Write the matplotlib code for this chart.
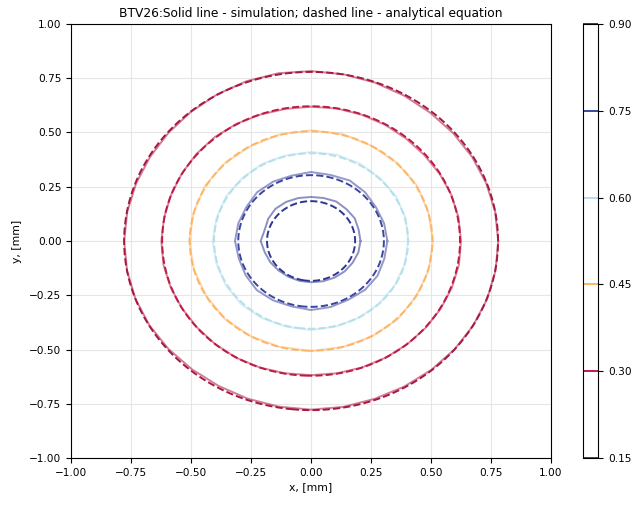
import numpy as np
import matplotlib
matplotlib.use("Agg")
import matplotlib.pyplot as plt

# ---- data ----
levels = [0.15, 0.30, 0.45, 0.60, 0.75, 0.90]
level_colors = ['#a8173f', '#bd1a45', '#fdb567', '#b4dfeb', '#3c45a0', '#2f3590']
sigma_mm = 0.40  # analytical Gaussian beam size

# simulated contour radii (mm)
# outer two levels read every 10 deg, inner levels every 15 deg
sim_angles_10 = list(range(0, 360, 10))
sim_angles_15 = list(range(0, 360, 15))
sim_r_015 = [0.780, 0.779, 0.777, 0.775, 0.773, 0.772, 0.774, 0.777, 0.780, 0.783, 0.785, 0.784,
             0.781, 0.778, 0.776, 0.775, 0.776, 0.778, 0.779, 0.779, 0.779, 0.778, 0.775, 0.772,
             0.771, 0.773, 0.775, 0.777, 0.776, 0.774, 0.775, 0.777, 0.779, 0.780, 0.781, 0.781]
sim_r_030 = [0.625, 0.624, 0.622, 0.619, 0.616, 0.616, 0.618, 0.619, 0.620, 0.619, 0.618, 0.620,
             0.623, 0.625, 0.624, 0.622, 0.621, 0.622, 0.624, 0.625, 0.623, 0.621, 0.620, 0.621,
             0.622, 0.621, 0.619, 0.618, 0.619, 0.620, 0.621, 0.622, 0.623, 0.624, 0.625, 0.626]
sim_r_045 = [0.508, 0.506, 0.510, 0.508, 0.506, 0.510, 0.510, 0.508, 0.505, 0.508, 0.510, 0.507,
             0.508, 0.506, 0.505, 0.508, 0.506, 0.505, 0.507, 0.506, 0.508, 0.510, 0.507, 0.508]
sim_r_060 = [0.405, 0.408, 0.410, 0.408, 0.410, 0.412, 0.410, 0.408, 0.410, 0.408, 0.410, 0.408,
             0.410, 0.408, 0.410, 0.412, 0.410, 0.408, 0.410, 0.408, 0.406, 0.405, 0.404, 0.405]
sim_r_075 = [0.318, 0.315, 0.312, 0.318, 0.322, 0.315, 0.318, 0.312, 0.316, 0.318, 0.312, 0.314,
             0.317, 0.312, 0.315, 0.320, 0.316, 0.312, 0.318, 0.315, 0.312, 0.318, 0.320, 0.316]
sim_r_090 = [0.206, 0.205, 0.210, 0.208, 0.210, 0.205, 0.203, 0.205, 0.208, 0.210, 0.206, 0.200,
             0.210, 0.200, 0.196, 0.192, 0.190, 0.190, 0.190, 0.192, 0.195, 0.198, 0.200, 0.204]
sim_radii = [sim_r_015, sim_r_030, sim_r_045, sim_r_060, sim_r_075, sim_r_090]
sim_angles = [sim_angles_10, sim_angles_10, sim_angles_15, sim_angles_15, sim_angles_15, sim_angles_15]

xticks = [-1.00, -0.75, -0.50, -0.25, 0.00, 0.25, 0.50, 0.75, 1.00]
yticks = [-1.00, -0.75, -0.50, -0.25, 0.00, 0.25, 0.50, 0.75, 1.00]

# ---- figure ----
plt.rcParams['font.family'] = ['DejaVu Sans']
fig = plt.figure(figsize=(6.41, 5.05), dpi=100)
ax = fig.add_axes([0.111, 0.093, 0.7486, 0.8595])
cax = fig.add_axes([0.9095, 0.093, 0.0235, 0.8595])

# analytical equation (dashed)
g = np.linspace(-1, 1, 401)
X, Y = np.meshgrid(g, g)
Z = np.exp(-(X**2 + Y**2) / (2 * sigma_mm**2))
cs = ax.contour(X, Y, Z, levels=levels, colors=level_colors,
                linestyles='--', linewidths=1.4)

# simulation (solid)
for r, a, c in zip(sim_radii, sim_angles, level_colors):
    ang = np.deg2rad(np.array(a + [360]))
    rr = np.array(r + [r[0]])
    ax.plot(rr * np.cos(ang), rr * np.sin(ang), '-', color=c, alpha=0.55, lw=1.4)

ax.set_xlim(-1, 1)
ax.set_ylim(-1, 1)
ax.set_xticks(xticks)
ax.set_yticks(yticks)
ax.set_xticklabels([f'{v:.2f}'.replace('-', '\u2212') for v in xticks], fontsize=7.6)
ax.set_yticklabels([f'{v:.2f}'.replace('-', '\u2212') for v in yticks], fontsize=7.6)
ax.grid(True, color='#e6e6e6', lw=0.8)
ax.set_axisbelow(True)
ax.set_xlabel('x, [mm]', fontsize=7.8, labelpad=3)
ax.set_ylabel('y, [mm]', fontsize=7.8, labelpad=5)
ax.set_title('BTV26:Solid line - simulation; dashed line - analytical equation', fontsize=8.8, pad=5)

cb = fig.colorbar(cs, cax=cax)
cb.set_ticks(levels)
cb.set_ticklabels([f'{v:.2f}' for v in levels])
cb.ax.tick_params(labelsize=7.6)
for ln in cb.ax.collections:
    ln.set_linestyle('-')

fig.savefig('out.png', dpi=100)
